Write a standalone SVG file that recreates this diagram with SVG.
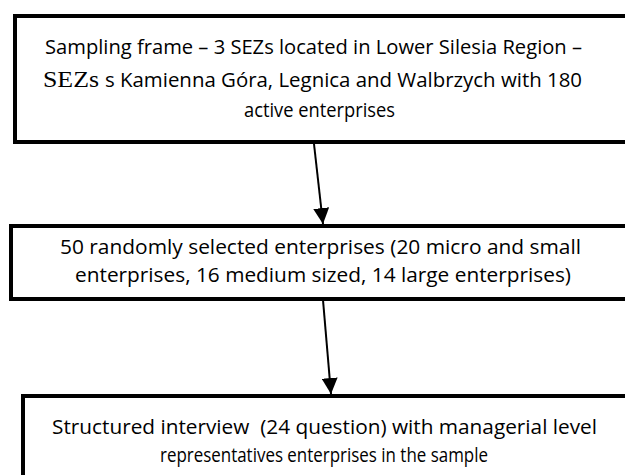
<svg xmlns="http://www.w3.org/2000/svg" width="625" height="475" viewBox="0 0 625 475">
<style>
.box{fill:#fff;stroke:#000;stroke-width:4}
.t{font-family:"Open Sans","Liberation Sans",sans-serif;font-size:19.5px;fill:#000}
.serif{font-family:"Liberation Serif","DejaVu Serif",serif;font-size:24px;fill:#000}
.c{stroke:#000;stroke-width:2;fill:none}
</style>
<defs>
<marker id="ah" viewBox="0 0 16 16" refX="16" refY="8" markerWidth="16" markerHeight="16" orient="auto" markerUnits="userSpaceOnUse">
<path d="M0,0 L16,8 L0,16 z" fill="#000"/>
</marker>
</defs>
<rect width="625" height="475" fill="#fff"/>
<g id="connectors">
<line class="c" x1="314" y1="144" x2="323" y2="224" marker-end="url(#ah)"/>
<line class="c" x1="323" y1="300" x2="331" y2="394" marker-end="url(#ah)"/>
</g>
<g id="node1">
<rect class="box" x="15" y="16" width="640" height="126"/>
<text class="t" x="45" y="54" textLength="537" lengthAdjust="spacingAndGlyphs">Sampling frame – 3 SEZs located in Lower Silesia Region –</text>
<text class="serif" x="43" y="87" textLength="56" lengthAdjust="spacingAndGlyphs">SEZs</text>
<text class="t" x="105" y="87" textLength="477" lengthAdjust="spacingAndGlyphs">s Kamienna Góra, Legnica and Walbrzych with 180</text>
<text class="t" x="244" y="117" textLength="151" lengthAdjust="spacingAndGlyphs">active enterprises</text>
</g>
<g id="node2">
<rect class="box" x="11" y="226" width="640" height="73"/>
<text class="t" x="60" y="254" textLength="521" lengthAdjust="spacingAndGlyphs">50 randomly selected enterprises (20 micro and small</text>
<text class="t" x="75" y="282" textLength="496" lengthAdjust="spacingAndGlyphs">enterprises, 16 medium sized, 14 large enterprises)</text>
</g>
<g id="node3">
<rect class="box" x="23" y="396" width="640" height="120"/>
<text class="t" x="52" y="434" textLength="545" lengthAdjust="spacingAndGlyphs" xml:space="preserve">Structured interview  (24 question) with managerial level</text>
<text class="t" x="160" y="462" textLength="328" lengthAdjust="spacingAndGlyphs">representatives enterprises in the sample</text>
</g>
</svg>
